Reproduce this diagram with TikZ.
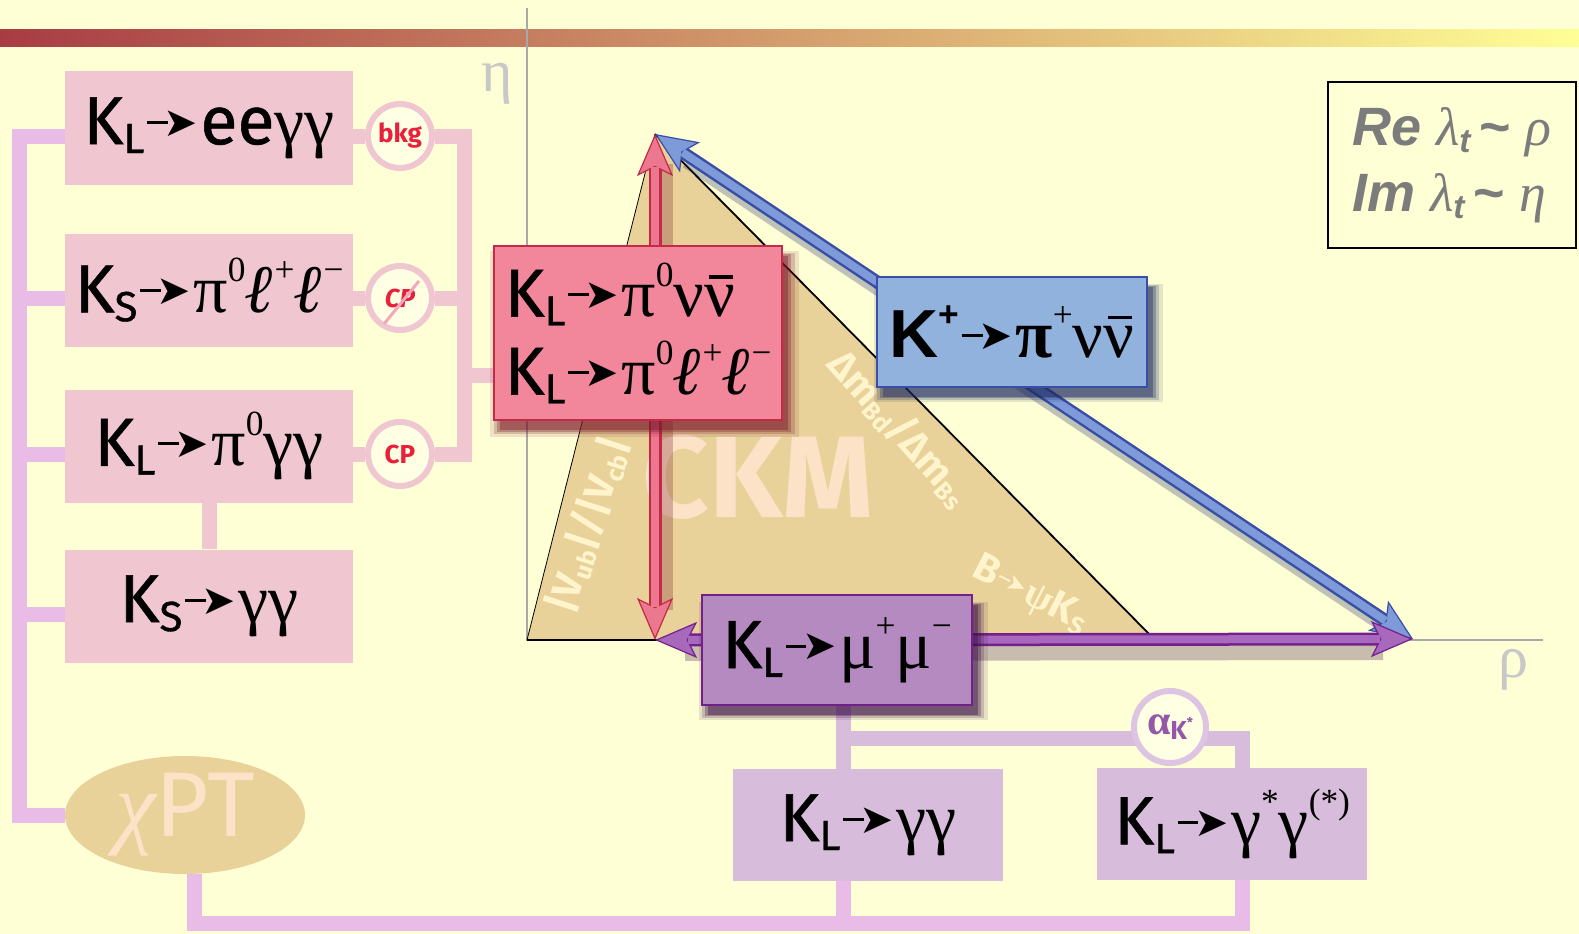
\documentclass[tikz,border=0pt]{standalone}
\usepackage{fontspec}
\setmainfont{Fira Sans}
\newfontfamily\decf{Fira Sans}[FakeBold=0.8]
\newfontfamily\gkf{Liberation Serif}
\newfontfamily\arf{Liberation Sans}
\newfontfamily\dvf{DejaVu Sans}
\usetikzlibrary{arrows.meta,shadows,calc,shapes.geometric}
\definecolor{bg}{HTML}{FFFFD6}
\definecolor{bgin}{HTML}{FFFFE4}
\definecolor{pinkbox}{HTML}{F0C6D0}
\definecolor{lavline}{HTML}{E8BCE6}
\definecolor{redbox}{HTML}{F2879C}
\definecolor{redline}{HTML}{C42A48}
\definecolor{redarr}{HTML}{EC7890}
\definecolor{redshd}{HTML}{7A1828}
\definecolor{bluebox}{HTML}{92B2DE}
\definecolor{blueline}{HTML}{3A4EA8}
\definecolor{bluearr}{HTML}{7E9AD8}
\definecolor{blueshd}{HTML}{1C2A60}
\definecolor{purbox}{HTML}{B48AC0}
\definecolor{purline}{HTML}{74208C}
\definecolor{purarr}{HTML}{A868BC}
\definecolor{purshd}{HTML}{3C1048}
\definecolor{lpurbox}{HTML}{D8BCDC}
\definecolor{tanc}{HTML}{E8D29A}
\definecolor{peach}{HTML}{FCE2C6}
\definecolor{cream}{HTML}{FFF4CC}
\definecolor{axisgray}{HTML}{A8A8A8}
\definecolor{lblgray}{HTML}{C8C8C8}
\definecolor{txtgray}{HTML}{7C7C7C}
\definecolor{cpred}{HTML}{E8203C}
\definecolor{slashc}{HTML}{F2A8BA}
\definecolor{akpur}{HTML}{9558A8}
\definecolor{akring}{HTML}{DCC4E2}
\definecolor{barL}{HTML}{A83C44}
\definecolor{barM}{HTML}{DCC07A}
\definecolor{barR}{HTML}{FFFF96}
\pgfdeclarelayer{back}
\pgfdeclarelayer{conn}
\pgfsetlayers{back,conn,main}
\newcommand\up[1]{\raisebox{0.45em}{\scalebox{0.52}{#1}}}
\newcommand\dn[1]{\raisebox{-0.13em}{\scalebox{0.62}{#1}}}
\newcommand\kk[1]{K\dn{#1}}
\newcommand\gk[1]{{\gkf #1}}
\newcommand\ka{\kern0.04em\rule[0.3em]{0.3em}{0.045em}\kern-0.06em\raisebox{0.12em}{\scalebox{0.6}{\dvf ➤}}\kern0.04em}
\newcommand\lep{{\gkf\bfseries\itshape ℓ}}
\newsavebox\nubox
\newcommand\nbar{\sbox\nubox{\gkf ν}\rlap{\kern0.07em\raisebox{0.56em}{\rule{\dimexpr\wd\nubox-0.1em\relax}{0.05em}}}\usebox\nubox}
\newcommand\tld{{\arf\bfseries\char"7E}}
\begin{document}
\begin{tikzpicture}[x=1pt,y=-1pt,
  conn/.style={line width=15pt, line join=miter},
  lconn/.style={conn, draw=lavline},
  pconn/.style={conn, draw=pinkbox},
  uconn/.style={conn, draw=lpurbox},
  dec/.style={inner sep=0pt, minimum width=288pt, minimum height=113pt, font=\fontsize{68}{68}\selectfont\decf, text=black},
  pbox/.style={dec, fill=pinkbox},
  shd/.style={
    general shadow={shadow xshift=6pt, shadow yshift=-10pt, shadow scale=1.07, fill=#1, opacity=0.12},
    general shadow={shadow xshift=6pt, shadow yshift=-10pt, shadow scale=1.045, fill=#1, opacity=0.2},
    general shadow={shadow xshift=6pt, shadow yshift=-10pt, shadow scale=1.02, fill=#1, opacity=0.3},
    general shadow={shadow xshift=6pt, shadow yshift=-10pt, shadow scale=1.0, fill=#1, opacity=0.4}},
  ring/.style={circle, minimum size=64pt, inner sep=0pt, line width=6pt, fill=bgin, font=\fontsize{26}{26}\selectfont\bfseries},
  sidelbl/.style={text=cream, font=\fontsize{40}{40}\selectfont\bfseries, inner sep=0pt},
  arrbase/.style n args={2}{line width=13pt, draw=#2, {Stealth[length=42pt,width=36pt,inset=9pt,line width=1.2pt,fill=#1]}-{Stealth[length=42pt,width=36pt,inset=9pt,line width=1.2pt,fill=#1]}},
  arrin/.style={line width=8pt, draw=#1, shorten <=33pt, shorten >=33pt},
  glow/.style={line width=18pt, draw=#1, opacity=0.28, shorten <=30pt, shorten >=30pt}
]
\useasboundingbox (0,0) rectangle (1579,934);
\begin{pgfonlayer}{back}
\fill[bg] (0,0) rectangle (1579,934);
\shade[left color=barL, middle color=barM, right color=barR] (0,30) rectangle (1579,47);
\end{pgfonlayer}

% CKM triangle
\coordinate (A) at (655,134);
\coordinate (B) at (655,640);
\coordinate (C) at (1413,639);
\coordinate (T0) at (527,640);
\coordinate (T2) at (1155,640);
\fill[tanc] (T0) -- (A) -- (T2) -- cycle;
\draw[axisgray, line width=1.5pt] (527,8) -- (T0) -- (1543,640);
\draw[black, line width=0.8pt] (T0) -- (A);
\draw[black, line width=1.8pt] (A) -- (T2) -- (T0);
\node[text=lblgray, font=\fontsize{60}{60}\selectfont\gkf] (eta) at (497,84) {η};
\node[text=lblgray, font=\fontsize{60}{60}\selectfont\gkf] (rho) at (1513,670) {ρ};
\node[text=peach, font=\fontsize{116}{116}\selectfont\bfseries, inner sep=0pt] (ckm) at (758,477) {CKM};
\node[sidelbl, rotate=72] (vl) at (588,525) {|V\dn{ub}|/|V\dn{cb}|};
\node[sidelbl, rotate=-48] (dm) at (900,428) {Δm\dn{Bd}/Δm\dn{Bs}};
\node[sidelbl, rotate=-27] (bpk) at (1030,595) {B\ka{\gkf ψ}K\dn{S}};

% unitarity arrows
\draw[glow=blueshd] ($(A)+(8,9)$) -- ($(C)+(8,9)$);
\draw[glow=purshd] ($(B)+(0,12)$) -- ($(C)+(0,12)$);
\draw[glow=redshd] ($(A)+(9,0)$) -- ($(B)+(9,0)$);
\draw[arrbase={bluearr}{blueline}] (A) -- (C);
\draw[arrin=bluearr] (A) -- (C);
\draw[arrbase={redarr}{redline}] (A) -- (B);
\draw[arrin=redarr] (A) -- (B);
\draw[arrbase={purarr}{purline}] (B) -- (C);
\draw[arrin=purarr] (B) -- (C);

% left column
\node[pbox] (b1) at (209,128) {\kk{L}\ka ee\gk{γγ}};
\node[pbox] (b2) at (209,290) {\kk{S}\ka\gk{π}\up{\gk{0}}\lep\up{\gk{+}}\lep\up{\gk{−}}};
\node[pbox] (b3) at (209,446) {\kk{L}\ka\gk{π}\up{\gk{0}}\gk{γγ}};
\node[pbox] (b4) at (209,606) {\kk{S}\ka\gk{γγ}};
\node[ring, draw=pinkbox, text=cpred] (c1) at (400,136) {bkg};
\node[ring, draw=pinkbox, text=cpred] (c2) at (400,298) {\itshape CP};
\draw[slashc, line width=3pt] ($(c2)+(-16,26)$) -- ($(c2)+(19,-17)$);
\node[ring, draw=pinkbox, text=cpred] (c3) at (400,454) {CP};
\node[ellipse, fill=tanc, minimum width=240pt, minimum height=118pt, inner sep=0pt, text=peach, font=\fontsize{92}{92}\selectfont] (chpt) at (185,815) {{\gkf\itshape χ}PT};

% coloured boxes
\node[dec, fill=redbox, draw=redline, line width=2pt, shd=redshd, minimum height=174pt, align=left] (rb) at (638,333)
  {\kk{L}\ka\gk{π}\up{\gk{0}}\gk{ν}\nbar\\[10pt]\kk{L}\ka\gk{π}\up{\gk{0}}\lep\up{\gk{+}}\lep\up{\gk{−}}};
\node[dec, fill=bluebox, draw=blueline, line width=2pt, shd=blueshd, minimum width=270pt, minimum height=110pt] (kp) at (1012,332)
  {{\arf\bfseries K\up{+}}\ka{\gkf\bfseries π}\up{\gk{+}}\gk{ν}\nbar};
\node[dec, fill=purbox, draw=purline, line width=2pt, shd=purshd, minimum width=270pt, minimum height=110pt] (mm) at (837,650)
  {\kk{L}\ka\gk{μ}\up{\gk{+}}\gk{μ}\up{\gk{−}}};
\node[dec, fill=lpurbox, minimum width=270pt, minimum height=112pt] (gg) at (868,825) {\kk{L}\ka\gk{γγ}};
\node[dec, fill=lpurbox, minimum width=270pt, minimum height=112pt] (gs) at (1232,824) {\kk{L}\ka\gk{γ}\up{\gk{*}}\gk{γ}\up{\gk{(*)}}};
\node[ring, draw=akring, text=akpur, minimum size=72pt] (ak) at (1170,727) {\fontsize{42}{42}\selectfont{\gkf\bfseries α}\dn{K\up{*}}};

% Re / Im box
\node[draw=black, line width=2pt, minimum width=248pt, minimum height=166pt, text=txtgray, align=left, font=\fontsize{54}{66}\selectfont] (rl) at (1452,165)
  {{\arf\bfseries\itshape Re} {\gkf\itshape λ}\dn{\arf\bfseries\itshape t}\,\tld\ {\gkf\itshape ρ}\\{\arf\bfseries\itshape Im} {\gkf\itshape λ}\dn{\arf\bfseries\itshape t}\,\tld\ {\gkf\itshape η}};

% connectors
\coordinate (lbot) at (19,815);
\coordinate (rt) at (464,136);
\coordinate (rbt) at (464,454);
\coordinate (rj) at (464,375);
\coordinate (j1) at (843,738);
\coordinate (j2) at (1242,738);
\coordinate (jb) at (1242,923);
\begin{pgfonlayer}{conn}
\draw[lconn] ($(b1.west)+(0,8)$) -| (lbot) -- (chpt.west);
\draw[lconn] ($(b2.west)+(0,8)$) -- ($(b2.west -| lbot)+(0,8)$);
\draw[lconn] ($(b3.west)+(0,8)$) -- ($(b3.west -| lbot)+(0,8)$);
\draw[lconn] ($(b4.west)+(0,8)$) -- ($(b4.west -| lbot)+(0,8)$);
\draw[pconn] ($(b1.east)+(0,8)$) -- (c1.west);
\draw[pconn] ($(b2.east)+(0,8)$) -- (c2.west);
\draw[pconn] ($(b3.east)+(0,8)$) -- (c3.west);
\draw[pconn] (c1.east) -- (rt) -- (rbt) -- (c3.east);
\draw[pconn] (c2.east) -- (c2.east -| rt);
\draw[pconn] (rj) -- (rj -| rb.west);
\draw[pconn] (b3.south) -- (b4.north);
\draw[uconn] (mm.south -| j1) -- (gg.north -| j1);
\draw[uconn] (j1) -- (j2) -- (j2 |- gs.north);
\draw[lconn] ($(chpt.south)+(9,0)$) |- (jb) -- (jb |- gs.south);
\draw[lconn] (gg.south -| j1) -- (j1 |- jb);
\end{pgfonlayer}
\end{tikzpicture}
\end{document}
